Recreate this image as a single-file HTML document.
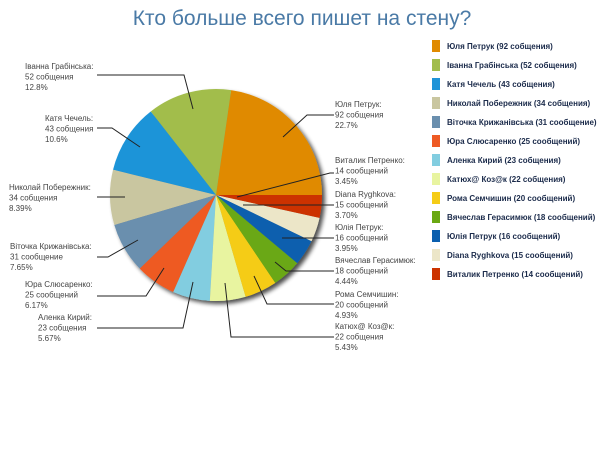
<!DOCTYPE html><html><head><meta charset="utf-8"><style>
html,body{margin:0;padding:0;background:#fff;width:604px;height:452px;overflow:hidden}
svg text{font-family:"Liberation Sans",sans-serif}
</style></head><body>
<svg id="s" width="604" height="452" xmlns="http://www.w3.org/2000/svg">
<defs><filter id="sh" x="-20%" y="-20%" width="140%" height="140%"><feGaussianBlur in="SourceAlpha" stdDeviation="2"/><feOffset dx="3" dy="3"/><feComponentTransfer><feFuncA type="linear" slope="0.7"/></feComponentTransfer><feMerge><feMergeNode/><feMergeNode in="SourceGraphic"/></feMerge></filter></defs>
<text x="302" y="25" text-anchor="middle" font-size="21" fill="#4a7aa6">Кто больше всего пишет на стену?</text>
<g id="pie" filter="url(#sh)"></g>
<g id="lines" stroke="#222" stroke-width="1" fill="none"></g>
<g id="labels" font-size="8" fill="#444"></g>
<g id="legend" font-size="8" font-weight="bold" fill="#1a2a4a"></g>
</svg>
<script>
var d=[["Юля Петрук",92,"#e08a00","92 собщения","22.7%"],["Іванна Грабінська",52,"#a2bd4c","52 собщения","12.8%"],["Катя Чечель",43,"#1f94d8","43 собщения","10.6%"],["Николай Побережник",34,"#c9c6a0","34 собщения","8.39%"],["Віточка Крижанівська",31,"#6a8fae","31 сообщение","7.65%"],["Юра Слюсаренко",25,"#ee5a24","25 сообщений","6.17%"],["Аленка Кирий",23,"#82cde0","23 собщения","5.67%"],["Катюх@ Коз@к",22,"#e8f4a0","22 собщения","5.43%"],["Рома Семчишин",20,"#f5cc17","20 сообщений","4.93%"],["Вячеслав Герасимюк",18,"#6aa812","18 сообщений","4.44%"],["Юлія Петрук",16,"#0b5fae","16 сообщений","3.95%"],["Diana Ryghkova",15,"#ece6c8","15 сообщений","3.70%"],["Виталик Петренко",14,"#cc3300","14 сообщений","3.45%"]];
var ns="http://www.w3.org/2000/svg",cx=216,cy=195,r=106,tot=405,a=0;
function el(t,at,p,txt){var e=document.createElementNS(ns,t);for(var k in at)e.setAttribute(k,at[k]);if(txt)e.textContent=txt;p.appendChild(e);return e}
var pie=document.getElementById("pie");
d.forEach(function(s){var a2=a+s[1]/tot*2*Math.PI;var x1=cx+r*Math.cos(a),y1=cy-r*Math.sin(a),x2=cx+r*Math.cos(a2),y2=cy-r*Math.sin(a2);
el("path",{d:"M"+cx+","+cy+"L"+x1+","+y1+"A"+r+","+r+" 0 "+(a2-a>Math.PI?1:0)+" 0 "+x2+","+y2+"Z",fill:s[2]},pie);a=a2;});
var lab={0:[335,107,"334,115 307,115 283,137"],1:[25,69,"97,75 184,75 193,109"],2:[45,121,"97,128 112,128 140,147"],3:[9,190,"97,197 125,197"],4:[10,249,"97,257 108,257 138,240"],5:[25,287,"97,296 146,296 164,268"],6:[38,320,"97,328 183,328 193,282"],7:[335,329,"334,337 231,337 225,283"],8:[335,297,"334,304 267,304 254,276"],9:[335,263,"334,271 286,271 275,262"],10:[335,230,"334,238 282,238"],11:[335,197,"334,205 243,205"],12:[335,163,"334,173 330,173 237,197"]};
var L=document.getElementById("lines"),T=document.getElementById("labels"),G=document.getElementById("legend");
d.forEach(function(s,i){var l=lab[i];el("polyline",{points:l[2]},L);
el("text",{x:l[0],y:l[1]},T,s[0]+":");el("text",{x:l[0],y:l[1]+10.5},T,s[3]);el("text",{x:l[0],y:l[1]+21},T,s[4]);
var y=40+i*19;el("rect",{x:432,y:y,width:8,height:12,fill:s[2]},G);
el("text",{x:447,y:y+9},G,s[0]+" ("+s[1]+" "+(s[3].split(" ")[1])+")");});
</script>
</body></html>
